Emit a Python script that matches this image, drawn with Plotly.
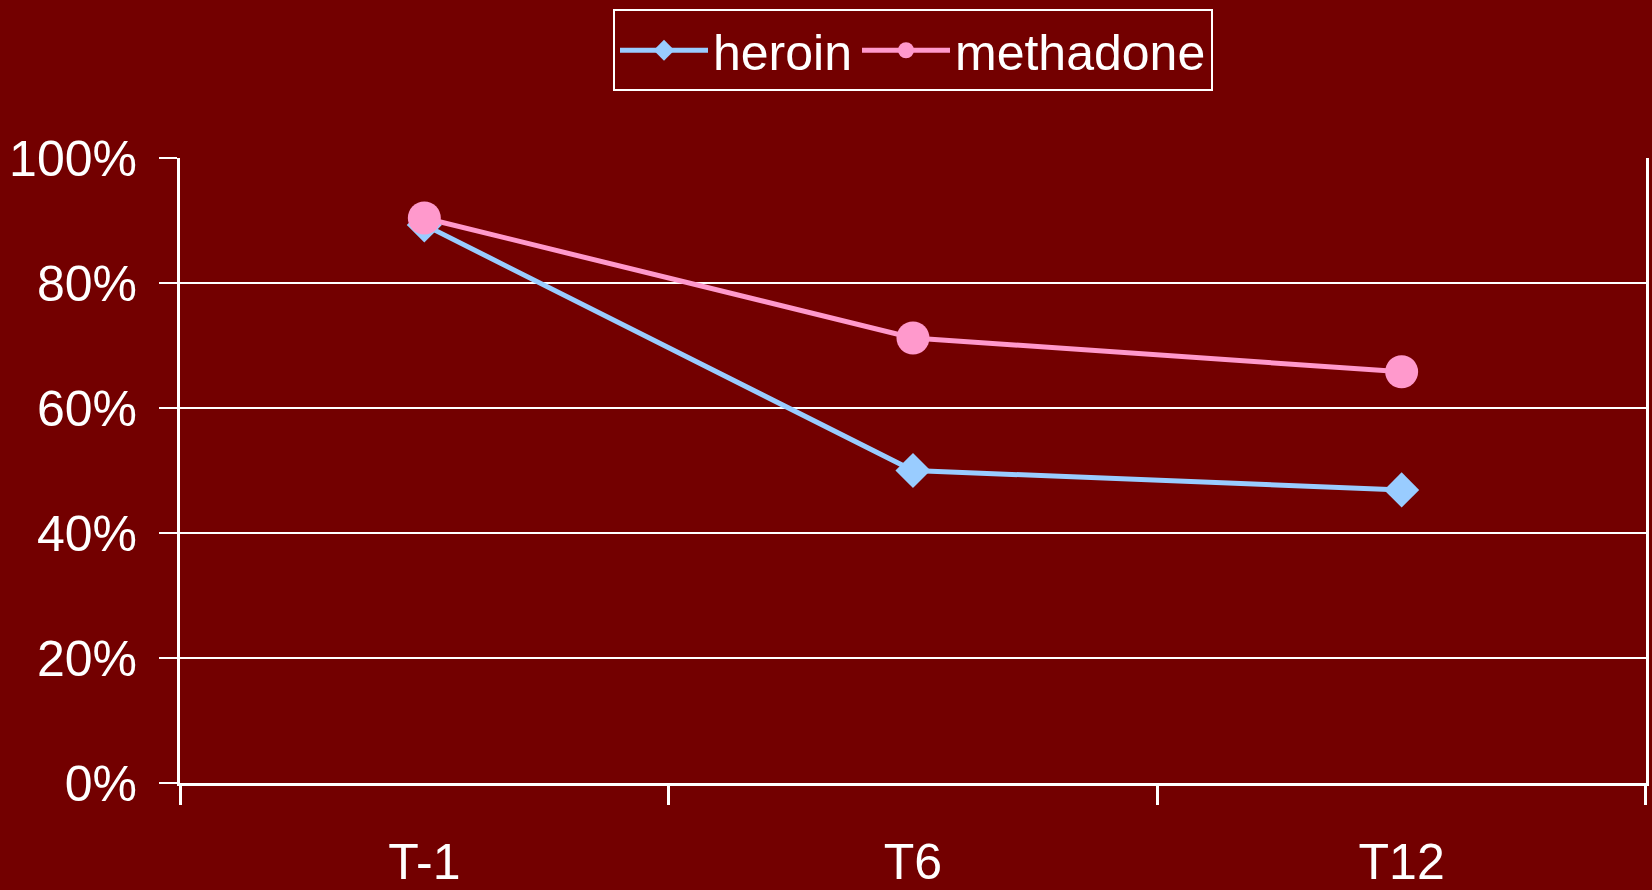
import plotly.graph_objects as go

categories = ["T-1", "T6", "T12"]
heroin = [0.893, 0.50, 0.469]
methadone = [0.904, 0.712, 0.658]
y_ticks = [0, 0.2, 0.4, 0.6, 0.8, 1.0]

BG = "#730000"
FONT = "Liberation Sans, Arial, sans-serif"

fig = go.Figure()
fig.add_trace(go.Scatter(
    x=categories, y=heroin, name="heroin", mode="lines+markers",
    line=dict(color="#99CCFF", width=5),
    marker=dict(symbol="diamond", size=27, color="#99CCFF"),
))
fig.add_trace(go.Scatter(
    x=categories, y=methadone, name="methadone", mode="lines+markers",
    line=dict(color="#FF99CC", width=5),
    marker=dict(symbol="circle", size=33, color="#FF99CC"),
))

fig.update_layout(
    width=1652, height=890,
    paper_bgcolor=BG, plot_bgcolor=BG,
    margin=dict(l=180, r=6, t=158, b=107, autoexpand=False),
    font=dict(family=FONT, size=50, color="white"),
    showlegend=True,
    legend=dict(
        orientation="h", x=0.5, xanchor="center", y=1.238, yanchor="top",
        bordercolor="white", borderwidth=2, bgcolor="rgba(0,0,0,0)",
        font=dict(family=FONT, size=50, color="white"),
        itemwidth=88,
    ),
    xaxis=dict(
        type="category", tickson="boundaries", ticks="outside", ticklen=19,
        tickwidth=3, tickcolor="white", showline=True, linecolor="white",
        linewidth=3, showgrid=False, zeroline=False, automargin=False,
        ticklabelstandoff=33, range=[-0.5, 2.5001],
    ),
    yaxis=dict(
        range=[0, 1], tickvals=y_ticks, tickformat=".0%",
        ticks="outside", ticklen=18, tickwidth=2, tickcolor="white",
        showline=True, linecolor="white", linewidth=3, mirror=True,
        showgrid=True, gridcolor="white", gridwidth=2, zeroline=False,
        ticklabelstandoff=12, automargin=False,
    ),
)

fig.write_html(
    "out.html",
    config={"displayModeBar": False},
    post_script="document.body.style.margin='0';document.body.style.padding='0';document.body.style.overflow='hidden';",
)
